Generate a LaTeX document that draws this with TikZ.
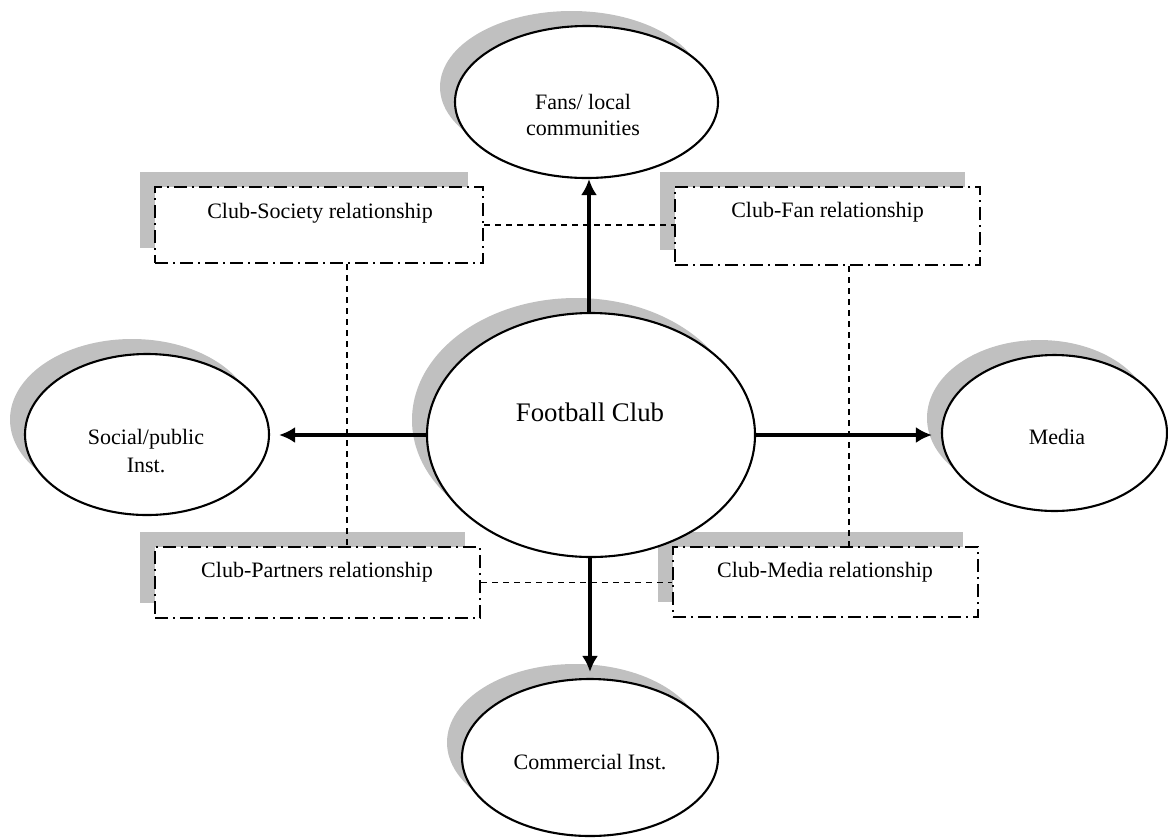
\documentclass[tikz,border=0pt]{standalone}
\usepackage{fontspec}
\setmainfont{Liberation Serif}
\usetikzlibrary{shapes.geometric,shadows,arrows.meta,calc}
\definecolor{shadowgray}{RGB}{192,192,192}
\begin{document}
\begin{tikzpicture}[x=0.5pt,y=-0.5pt,
  grayshadow/.style={general shadow={fill=shadowgray, shadow xshift=-7.5pt, shadow yshift=7.5pt}},
  ell/.style={ellipse, draw, line width=1.05pt, fill=white, inner sep=0pt, grayshadow},
  relbox/.style={rectangle, draw, line width=1.05pt, fill=white, inner sep=0pt,
    dash pattern=on 6.5pt off 2.5pt on 1pt off 2.5pt, grayshadow},
  lbl/.style={font=\fontsize{11}{13}\selectfont, align=center, inner sep=0pt},
  biglbl/.style={font=\fontsize{13.4}{16}\selectfont, align=center, inner sep=0pt},
  link/.style={draw, dash pattern=on 3pt off 2.5pt, line width=0.8pt},
  flow/.style={draw, line width=1.8pt, -{Latex[length=8pt,width=8pt]}}
]
\useasboundingbox (0,0) rectangle (1168,837);

% relationship boxes
\node[relbox, minimum width=164pt, minimum height=38pt] (soc) at (319,225) {};
\node[relbox, minimum width=152.5pt, minimum height=39pt] (fan) at (827.5,226) {};
\node[relbox, minimum width=162.5pt, minimum height=35.5pt] (par) at (317.5,582.5) {};
\node[relbox, minimum width=152.5pt, minimum height=35pt] (med) at (825.5,582) {};

\node[lbl] (soct) at (320,213) {Club-Society relationship};
\node[lbl] (fant) at (827.5,212) {Club-Fan relationship};
\node[lbl] (part) at (317,572) {Club-Partners relationship};
\node[lbl] (medt) at (825,572) {Club-Media relationship};

% dashed links between boxes
\draw[link] (soc.east) -- (soc.east -| fan.west);
\draw[link] (par.east) -- (par.east -| med.west);
\coordinate (socb) at ($(soc.south)+(28,0)$);
\coordinate (fanb) at ($(fan.south)+(21.5,0)$);
\draw[link] (socb) -- (socb |- par.north);
\draw[link] (fanb) -- (fanb |- med.north);

% ellipses
\node[ell, minimum width=164pt, minimum height=122pt] (fc) at (591,435) {};
\node[ell, minimum width=131.5pt, minimum height=76pt] (fans) at (586.5,102) {};
\node[ell, minimum width=122pt, minimum height=80.5pt] (soci) at (147,434.5) {};
\node[ell, minimum width=112.5pt, minimum height=78pt] (media) at (1054.5,433) {};
\node[ell, minimum width=128pt, minimum height=78.5pt] (comm) at (590,757.5) {};

\node[biglbl] (fct) at (590,412) {Football Club};
\node[lbl] (fanst) at (583,115) {Fans/ local\\communities};
\node[lbl, font=\fontsize{11}{14}\selectfont] (socit) at (146,451) {Social/public\\Inst.};
\node[lbl] (mediat) at (1057,437) {Media};
\node[lbl] (commt) at (590,762) {Commercial Inst.};

% arrows
\draw[flow] (fc.north -| 589,0) -- (589,0 |- fans.south);
\draw[flow] (fc.west) -- ([xshift=4.5pt]fc.west -| soci.east);
\draw[flow] (fc.east) -- ([xshift=-4.5pt]fc.east -| media.west);
\draw[flow] (fc.south -| 590,0) -- ([yshift=3pt]590,0 |- comm.north);
\end{tikzpicture}
\end{document}
